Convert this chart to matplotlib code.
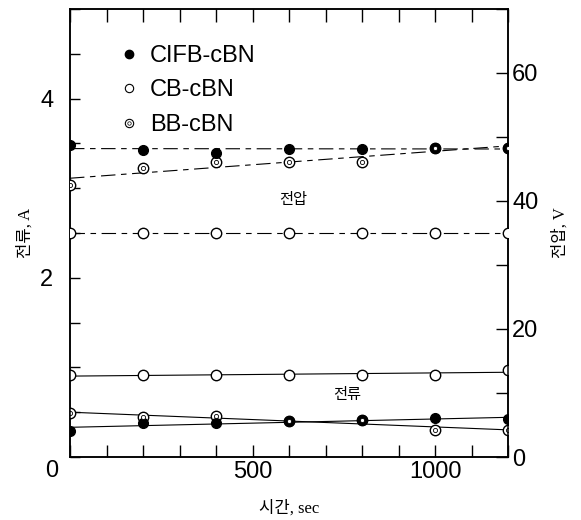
import numpy as np
import matplotlib.pyplot as plt
from matplotlib.lines import Line2D
from matplotlib.ticker import FixedLocator, MultipleLocator

# sampling times (sec)
time_s = [0, 200, 400, 600, 800, 1000, 1200]

# voltage, V (right axis)
volt_cifb = [48.8, 48.0, 47.5, 48.1, 48.1, 48.3, 48.3]
volt_cb = [35.0, 35.0, 35.0, 35.0, 35.0, 35.0, 35.0]
volt_bb = [42.5, 45.2, 46.1, 46.1, 46.1, 48.3, 48.3]

# current, A (left axis)
curr_cifb = [0.29, 0.38, 0.38, 0.40, 0.41, 0.43, 0.42]
curr_cb = [0.91, 0.91, 0.92, 0.92, 0.92, 0.92, 0.97]
curr_bb = [0.49, 0.45, 0.46, 0.40, 0.41, 0.30, 0.30]

labels = ['CIFB-cBN', 'CB-cBN', 'BB-cBN']

kor = ['Liberation Serif', 'Noto Sans CJK KR']
num = 'Liberation Sans'

fig = plt.figure(figsize=(5.81, 5.2), dpi=100)
ax = fig.add_axes([70 / 581, 63 / 520, 438 / 581, 448 / 520])
ax2 = ax.twinx()

t = np.array(time_s)
t_ends = np.array([t.min(), t.max()])
dash = (0, (13, 5, 5, 5))


def fit(y):
    # straight line through the points, like the original figure
    return np.polyval(np.polyfit(t, y, 1), t_ends)


def draw(axis, y, style, kind):
    axis.plot(t_ends, fit(y), color='black', lw=0.8, linestyle=style, zorder=2)
    if kind == 'filled':
        axis.plot(t, y, 'o', ms=7, mfc='black', mec='black', zorder=3)
    else:
        axis.plot(t, y, 'o', ms=7.5, mfc='white', mec='black', mew=1.0, zorder=3)
        if kind == 'double':
            axis.plot(t, y, 'o', ms=3, mfc='white', mec='black', mew=0.6, zorder=4)


# voltage (dashed)
draw(ax2, volt_cb, dash, 'open')
draw(ax2, volt_bb, dash, 'double')
draw(ax2, volt_cifb, dash, 'filled')

# current (solid)
draw(ax, curr_cb, '-', 'open')
draw(ax, curr_bb, '-', 'double')
draw(ax, curr_cifb, '-', 'filled')

ax.set_xlim(0, 1200)
ax.set_ylim(0, 5)
ax2.set_ylim(0, 70)

ax.xaxis.set_major_locator(FixedLocator([500, 1000]))
ax.xaxis.set_minor_locator(MultipleLocator(100))
ax.yaxis.set_major_locator(FixedLocator([2, 4]))
ax.yaxis.set_minor_locator(MultipleLocator(0.5))
ax2.yaxis.set_major_locator(FixedLocator([0, 20, 40, 60]))
ax2.yaxis.set_minor_locator(MultipleLocator(10))

ax.tick_params(axis='x', which='both', direction='in', top=True, length=9, width=1,
               labelsize=17, pad=3)
ax.tick_params(axis='y', which='both', direction='in', right=False, length=7, width=1,
               labelsize=17, pad=12)
ax2.tick_params(axis='y', which='both', direction='in', length=9, width=1,
                labelsize=17, pad=3)
for a in (ax, ax2):
    for lab in a.get_xticklabels() + a.get_yticklabels():
        lab.set_family(num)
    for s in a.spines.values():
        s.set_linewidth(1.1)

# shared origin label
ax.annotate('0', xy=(0, 0), xytext=(-13, -10), textcoords='offset points',
            ha='center', va='center', fontsize=17, family=num)

ax.set_xlabel('시간, sec', family=kor, fontsize=12, labelpad=12)
ax.set_ylabel('전류, A', family=kor, fontsize=12, labelpad=5)
ax2.set_ylabel('전압, V', family=kor, fontsize=12, labelpad=10)

ax.text(0.509, 0.574, '전압', transform=ax.transAxes, family=kor, fontsize=11,
        ha='center', va='center')
ax.text(0.632, 0.138, '전류', transform=ax.transAxes, family=kor, fontsize=11,
        ha='center', va='center')

# legend
h_cifb = Line2D([], [], marker='o', ls='none', ms=6, mfc='black', mec='black')
h_cb = Line2D([], [], marker='o', ls='none', ms=6, mfc='white', mec='black', mew=0.8)
h_bb_out = Line2D([], [], marker='o', ls='none', ms=6, mfc='white', mec='black', mew=0.8)
h_bb_in = Line2D([], [], marker='o', ls='none', ms=2.5, mfc='white', mec='black', mew=0.5)
leg = ax.legend([h_cifb, h_cb, (h_bb_out, h_bb_in)], labels, loc='upper left',
                bbox_to_anchor=(0.08, 0.9455), frameon=False, handlelength=1.0,
                handletextpad=0.4, labelspacing=0.52, borderpad=0,
                prop={'family': num, 'size': 17})

fig.savefig('out.png', dpi=100)
